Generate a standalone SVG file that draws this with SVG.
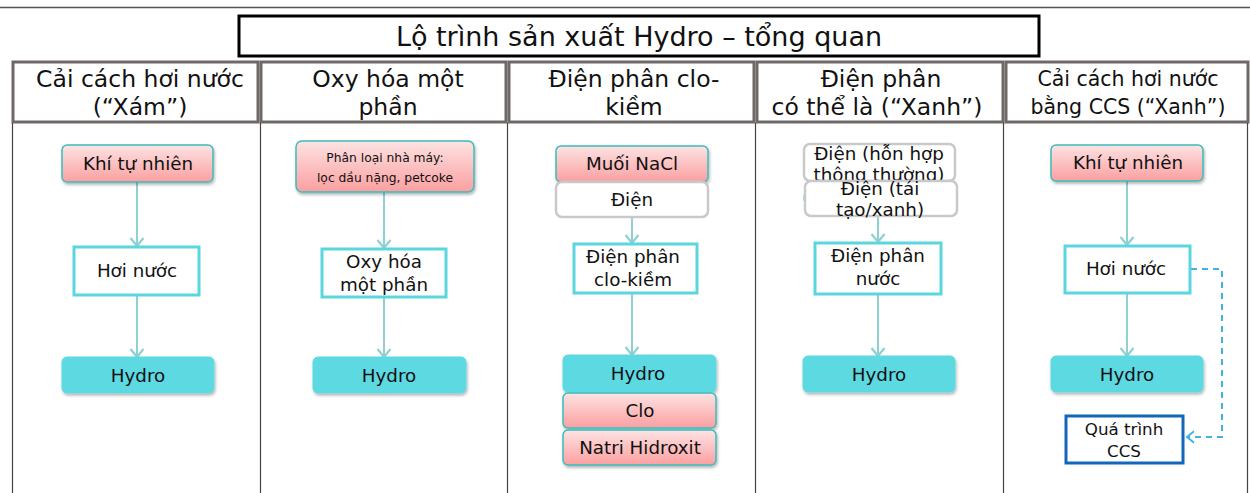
<svg xmlns="http://www.w3.org/2000/svg" width="1250" height="493" viewBox="0 0 1250 493">
  <defs>
    <linearGradient id="pinkFill" x1="0" y1="0" x2="0" y2="1">
      <stop offset="0" stop-color="#fde3e3"/>
      <stop offset="1" stop-color="#fb9fa0"/>
    </linearGradient>
    <filter id="shadow" x="-10%" y="-20%" width="120%" height="160%">
      <feDropShadow dx="1" dy="2" stdDeviation="1.5" flood-color="#000" flood-opacity="0.3"/>
    </filter>
    <marker id="chev" viewBox="0 0 16 16" refX="13" refY="8" markerWidth="16" markerHeight="16" markerUnits="userSpaceOnUse" orient="auto">
      <path d="M5 1.5 L13 8 L5 14.5" fill="none" stroke="#8fd0d0" stroke-width="2.2"/>
    </marker>
    <marker id="chevBlue" viewBox="0 0 16 16" refX="13" refY="8" markerWidth="14" markerHeight="14" markerUnits="userSpaceOnUse" orient="auto">
      <path d="M5 1.5 L13 8 L5 14.5" fill="none" stroke="#3fb3e3" stroke-width="2.2"/>
    </marker>
    <style>
      text { font-family: "DejaVu Sans", Verdana, sans-serif; fill: #111; text-anchor: middle; }
      .title { font-size: 27px; }
      .head { font-size: 23.5px; }
      .head5 { font-size: 20.5px; }
      .lbl { font-size: 18.3px; }
      .small { font-size: 12.3px; }
      .ccsl { font-size: 16.7px; }
      .frame { fill: none; stroke: #6e6866; stroke-width: 3; }
      .rule { stroke: #444; stroke-width: 1.2; }
      .pink { fill: url(#pinkFill); stroke: #3bbdbd; stroke-width: 1.5; filter: url(#shadow); }
      .step { fill: #fff; stroke: #5ad6df; stroke-width: 3; }
      .hydro { fill: #5dd9e2; stroke: #5dd9e2; stroke-width: 1; filter: url(#shadow); }
      .power { fill: #fff; stroke: #c9c9c9; stroke-width: 2.5; }
      .ccs { fill: #fff; stroke: #1467b8; stroke-width: 3; }
      .flow { stroke: #8fd0d0; stroke-width: 2; fill: none; marker-end: url(#chev); }
      .dash { stroke: #3fb3e3; stroke-width: 2; fill: none; stroke-dasharray: 6 5; }
    </style>
  </defs>

  <rect width="1250" height="493" fill="#fff"/>
  <line x1="0" y1="7.5" x2="1250" y2="7.5" stroke="#555" stroke-width="1.5"/>

  <!-- title -->
  <g id="title">
    <rect x="239" y="16" width="800" height="40" fill="#fff" stroke="#000" stroke-width="3"/>
    <text class="title" x="639" y="46">Lộ trình sản xuất Hydro – tổng quan</text>
  </g>

  <!-- column headers -->
  <g id="headers">
    <rect class="frame" x="13" y="62" width="245" height="60"/>
    <rect class="frame" x="261" y="62" width="245" height="60"/>
    <rect class="frame" x="509" y="62" width="245" height="60"/>
    <rect class="frame" x="757" y="62" width="246" height="60"/>
    <rect class="frame" x="1006" y="62" width="242" height="60"/>
    <text class="head" x="140" y="87">Cải cách hơi nước</text>
    <text class="head" x="140" y="115">(“Xám”)</text>
    <text class="head" x="388" y="87">Oxy hóa một</text>
    <text class="head" x="388" y="115">phần</text>
    <text class="head" x="634" y="87">Điện phân clo-</text>
    <text class="head" x="634" y="115">kiềm</text>
    <text class="head" x="881" y="87">Điện phân</text>
    <text class="head" x="877" y="115">có thể là (“Xanh”)</text>
    <text class="head5" x="1128" y="86">Cải cách hơi nước</text>
    <text class="head5" x="1128" y="114">bằng CCS (“Xanh”)</text>
  </g>

  <!-- column rules -->
  <g id="rules">
    <line class="rule" x1="12.5" y1="123" x2="12.5" y2="493"/>
    <line class="rule" x1="260.5" y1="123" x2="260.5" y2="493"/>
    <line class="rule" x1="507.5" y1="123" x2="507.5" y2="493"/>
    <line class="rule" x1="755.5" y1="123" x2="755.5" y2="493"/>
    <line class="rule" x1="1003.5" y1="123" x2="1003.5" y2="493"/>
    <line class="rule" x1="1247.5" y1="123" x2="1247.5" y2="493"/>
  </g>

  <!-- connectors -->
  <g id="connectors">
    <line class="flow" x1="137" y1="182" x2="137" y2="246"/>
    <line class="flow" x1="137" y1="296" x2="137" y2="357"/>
    <line class="flow" x1="384" y1="192" x2="384" y2="248"/>
    <line class="flow" x1="384" y1="297" x2="384" y2="357"/>
    <line class="flow" x1="632" y1="217" x2="632" y2="243"/>
    <line class="flow" x1="632" y1="293" x2="632" y2="355"/>
    <line class="flow" x1="878" y1="216" x2="878" y2="242"/>
    <line class="flow" x1="878" y1="294" x2="878" y2="356"/>
    <line class="flow" x1="1127" y1="181" x2="1127" y2="245"/>
    <line class="flow" x1="1127" y1="293" x2="1127" y2="356"/>
    <polyline class="dash" points="1191,269 1222,269 1222,437 1187,437" marker-end="url(#chevBlue)"/>
  </g>

  <!-- column 1: steam reforming -->
  <g id="n-gas1">
    <rect class="pink" x="62" y="145" width="151" height="37" rx="5"/>
    <text class="lbl" x="138" y="170">Khí tự nhiên</text>
  </g>
  <g id="n-steam1">
    <rect class="step" x="74" y="247" width="125" height="48"/>
    <text class="lbl" x="137" y="277">Hơi nước</text>
  </g>
  <g id="n-hydro1">
    <rect class="hydro" x="62" y="357" width="152" height="36" rx="5"/>
    <text class="lbl" x="138" y="382">Hydro</text>
  </g>

  <!-- column 2: partial oxidation -->
  <g id="n-feed2">
    <rect class="pink" x="296" y="141" width="178" height="51" rx="6"/>
    <text class="small" x="385" y="162">Phân loại nhà máy:</text>
    <text class="small" x="385" y="182">lọc dầu nặng, petcoke</text>
  </g>
  <g id="n-pox2">
    <rect class="step" x="322" y="249" width="124" height="48"/>
    <text class="lbl" x="384" y="268">Oxy hóa</text>
    <text class="lbl" x="384" y="291">một phần</text>
  </g>
  <g id="n-hydro2">
    <rect class="hydro" x="313" y="357" width="153" height="36" rx="5"/>
    <text class="lbl" x="389" y="382">Hydro</text>
  </g>

  <!-- column 3: chlor-alkali -->
  <g id="n-salt3">
    <rect class="pink" x="556" y="146" width="152" height="36" rx="5"/>
    <text class="lbl" x="632" y="170">Muối NaCl</text>
  </g>
  <g id="n-power3">
    <rect class="power" x="556" y="182" width="152" height="35" rx="6"/>
    <text class="lbl" x="632" y="206">Điện</text>
  </g>
  <g id="n-cell3">
    <rect class="step" x="574" y="244" width="123" height="49"/>
    <text class="lbl" x="633" y="263">Điện phân</text>
    <text class="lbl" x="633" y="286">clo-kiềm</text>
  </g>
  <g id="n-hydro3">
    <rect class="hydro" x="563" y="355" width="153" height="37" rx="5"/>
    <text class="lbl" x="638" y="380">Hydro</text>
  </g>
  <g id="n-chlorine3">
    <rect class="pink" x="563" y="393" width="153" height="35" rx="5"/>
    <text class="lbl" x="640" y="417">Clo</text>
  </g>
  <g id="n-naoh3">
    <rect class="pink" x="563" y="430" width="153" height="35" rx="5"/>
    <text class="lbl" x="640" y="454">Natri Hidroxit</text>
  </g>

  <!-- column 4: water electrolysis -->
  <g id="n-grid4">
    <rect class="power" x="804" y="144" width="151" height="37" rx="6"/>
    <text class="lbl" x="879" y="160">Điện (hỗn hợp</text>
    <text class="lbl" x="879" y="181">thông thường)</text>
  </g>
  <g id="n-green4">
    <path d="M806 184 Q803 197 806 211" class="dash" stroke-dasharray="4 3"/>
    <rect class="power" x="805" y="181" width="152" height="35" rx="6"/>
    <text class="lbl" x="880" y="195">Điện (tái</text>
    <text class="lbl" x="880" y="216">tạo/xanh)</text>
  </g>
  <g id="n-elec4">
    <rect class="step" x="815" y="243" width="126" height="51"/>
    <text class="lbl" x="878" y="262">Điện phân</text>
    <text class="lbl" x="878" y="285">nước</text>
  </g>
  <g id="n-hydro4">
    <rect class="hydro" x="803" y="356" width="152" height="36" rx="5"/>
    <text class="lbl" x="879" y="381">Hydro</text>
  </g>

  <!-- column 5: steam reforming with CCS -->
  <g id="n-gas5">
    <rect class="pink" x="1051" y="145" width="152" height="36" rx="5"/>
    <text class="lbl" x="1128" y="169">Khí tự nhiên</text>
  </g>
  <g id="n-steam5">
    <rect class="step" x="1065" y="246" width="125" height="47"/>
    <text class="lbl" x="1126" y="275">Hơi nước</text>
  </g>
  <g id="n-hydro5">
    <rect class="hydro" x="1051" y="356" width="152" height="36" rx="5"/>
    <text class="lbl" x="1127" y="381">Hydro</text>
  </g>
  <g id="n-ccs5">
    <rect class="ccs" x="1066" y="416" width="117" height="47"/>
    <text class="ccsl" x="1124" y="435">Quá trình</text>
    <text class="ccsl" x="1124" y="457">CCS</text>
  </g>
</svg>
